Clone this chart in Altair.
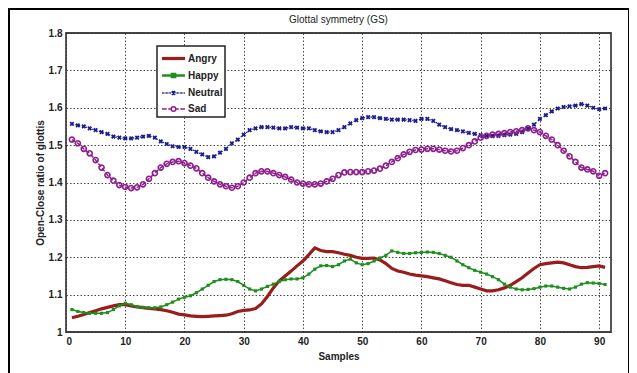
import altair as alt
import pandas as pd

emotions = ["Angry", "Happy", "Neutral", "Sad"]
colors = ["#9a1c1c", "#1e8f1e", "#1c1c8c", "#8e1e8e"]
samples = list(range(1, 92))
x_ticks = list(range(0, 91, 10))
y_ticks = [1.0, 1.1, 1.2, 1.3, 1.4, 1.5, 1.6, 1.7, 1.8]
title_text = "Glottal symmetry (GS)"

angry = [1.038, 1.042, 1.047, 1.052, 1.057, 1.062, 1.066, 1.070, 1.073, 1.073,
         1.070, 1.067, 1.065, 1.063, 1.062, 1.060, 1.057, 1.053, 1.048, 1.046,
         1.043, 1.042, 1.041, 1.042, 1.043, 1.044, 1.045, 1.049, 1.055, 1.058,
         1.059, 1.063, 1.075, 1.095, 1.118, 1.137, 1.150, 1.163, 1.177, 1.190,
         1.207, 1.225, 1.218, 1.215, 1.215, 1.212, 1.208, 1.205, 1.200, 1.197,
         1.197, 1.198, 1.193, 1.183, 1.170, 1.163, 1.160, 1.155, 1.152, 1.150,
         1.148, 1.145, 1.142, 1.137, 1.132, 1.127, 1.125, 1.125, 1.120, 1.115,
         1.110, 1.110, 1.113, 1.118, 1.125, 1.135, 1.145, 1.158, 1.170, 1.180,
         1.183, 1.185, 1.187, 1.185, 1.180, 1.175, 1.172, 1.173, 1.175, 1.177,
         1.173]

happy = [1.060, 1.055, 1.052, 1.050, 1.050, 1.050, 1.052, 1.060, 1.070, 1.077,
         1.073, 1.068, 1.066, 1.065, 1.065, 1.067, 1.073, 1.080, 1.088, 1.093,
         1.097, 1.105, 1.115, 1.125, 1.135, 1.140, 1.141, 1.140, 1.135, 1.125,
         1.115, 1.110, 1.115, 1.122, 1.128, 1.135, 1.140, 1.142, 1.142, 1.145,
         1.155, 1.168, 1.177, 1.178, 1.175, 1.180, 1.190, 1.195, 1.185, 1.180,
         1.183, 1.190, 1.198, 1.205, 1.217, 1.213, 1.210, 1.210, 1.212, 1.213,
         1.214, 1.213, 1.210, 1.205, 1.200, 1.190, 1.180, 1.172, 1.165, 1.160,
         1.155, 1.148, 1.140, 1.128, 1.120, 1.115, 1.113, 1.114, 1.116, 1.120,
         1.123, 1.123, 1.120, 1.117, 1.115, 1.120, 1.128, 1.132, 1.131, 1.130,
         1.127]

neutral = [1.557, 1.553, 1.550, 1.545, 1.540, 1.535, 1.530, 1.523, 1.520, 1.518,
           1.518, 1.520, 1.523, 1.525, 1.520, 1.510, 1.503, 1.497, 1.495, 1.495,
           1.490, 1.482, 1.475, 1.468, 1.470, 1.480, 1.490, 1.505, 1.515, 1.528,
           1.540, 1.545, 1.548, 1.548, 1.547, 1.545, 1.545, 1.548, 1.547, 1.545,
           1.545, 1.540, 1.537, 1.535, 1.535, 1.540, 1.548, 1.558, 1.567, 1.572,
           1.575, 1.575, 1.572, 1.570, 1.568, 1.568, 1.568, 1.567, 1.565, 1.570,
           1.570, 1.565, 1.555, 1.548, 1.543, 1.540, 1.537, 1.533, 1.530, 1.527,
           1.525, 1.524, 1.525, 1.527, 1.528, 1.530, 1.535, 1.545, 1.555, 1.570,
           1.580, 1.590, 1.598, 1.602, 1.604, 1.606, 1.610, 1.606, 1.600, 1.596,
           1.598]

sad = [1.515, 1.505, 1.490, 1.478, 1.460, 1.440, 1.420, 1.405, 1.393, 1.388,
       1.385, 1.387, 1.395, 1.410, 1.425, 1.440, 1.450, 1.455, 1.457, 1.452,
       1.445, 1.438, 1.425, 1.413, 1.403, 1.395, 1.390, 1.386, 1.390, 1.400,
       1.413, 1.425, 1.430, 1.430, 1.425, 1.420, 1.415, 1.408, 1.400, 1.397,
       1.395, 1.395, 1.397, 1.403, 1.410, 1.420, 1.427, 1.428, 1.428, 1.428,
       1.430, 1.432, 1.437, 1.445, 1.455, 1.465, 1.475, 1.482, 1.487, 1.488,
       1.490, 1.490, 1.488, 1.485, 1.483, 1.485, 1.492, 1.500, 1.510, 1.520,
       1.525, 1.528, 1.530, 1.532, 1.535, 1.537, 1.540, 1.545, 1.540, 1.535,
       1.525, 1.515, 1.500, 1.485, 1.470, 1.455, 1.440, 1.435, 1.430, 1.418,
       1.425]

series = {"Angry": angry, "Happy": happy, "Neutral": neutral, "Sad": sad}
rows = []
for name, vals in series.items():
    for s, v in zip(samples, vals):
        rows.append({"Sample": s, "Value": v, "Emotion": name})
df = pd.DataFrame(rows)

FONT = "Liberation Sans Narrow, Liberation Sans, Arial"

xenc = alt.X("Sample:Q", scale=alt.Scale(domain=[0, 92], nice=False),
             axis=alt.Axis(values=x_ticks, title="Samples"))
yenc = alt.Y("Value:Q", scale=alt.Scale(domain=[1, 1.8], nice=False, zero=False),
             axis=alt.Axis(values=y_ticks, format=".1~f", title="Open-Close ratio of glottis"))

base = alt.Chart(df)

line_style = {
    "Angry": dict(strokeWidth=3.2),
    "Happy": dict(strokeWidth=1.5),
    "Neutral": dict(strokeWidth=1.3, strokeDash=[1.5, 2]),
    "Sad": dict(strokeWidth=1.5, strokeDash=[4, 2]),
}
layers = []
for name, col in zip(emotions, colors):
    layers.append(
        base.transform_filter(alt.datum.Emotion == name)
        .mark_line(color=col, **line_style[name])
        .encode(x=xenc, y=yenc)
    )

XPATH = "M-1,-1L1,1M-1,1L1,-1"
layers.append(
    base.transform_filter(alt.datum.Emotion == "Happy")
    .mark_point(shape="square", filled=True, color=colors[1], size=10, opacity=1)
    .encode(x=xenc, y=yenc)
)
layers.append(
    base.transform_filter(alt.datum.Emotion == "Neutral")
    .mark_point(shape=XPATH, filled=False, color=colors[2], size=12, strokeWidth=1.8, opacity=1)
    .encode(x=xenc, y=yenc)
)
layers.append(
    base.transform_filter(alt.datum.Emotion == "Sad")
    .mark_point(shape="circle", filled=False, color=colors[3], size=26, strokeWidth=1.6, opacity=1)
    .encode(x=xenc, y=yenc)
)

# legend symbols (line + marker), coordinates scaled for symbolSize 289
def dotted(a, b, step=0.16, dot=0.08):
    out = ""
    p = a
    while p < b - 1e-9:
        q = min(p + dot, b)
        out += f"M{p:.3f},0L{q:.3f},0"
        p += step
    return out

W = 1.35
leg_shapes = [
    f"M{-W},0L{W},0",
    f"M{-W},0L{W},0M-0.18,-0.18L0.18,-0.18L0.18,0.18L-0.18,0.18Z",
    dotted(-W, -0.25) + dotted(0.27, W) + "M-0.2,-0.2L0.2,0.2M-0.2,0.2L0.2,-0.2",
    f"M{-W},0L-0.8,0M-0.62,0L-0.3,0M0.3,0L0.62,0M0.8,0L{W},0"
    "M-0.27,0A0.27,0.27 0 1,0 0.27,0A0.27,0.27 0 1,0 -0.27,0",
]

legend_layer = (
    base.transform_filter(alt.datum.Sample < 0)
    .mark_point(filled=False, opacity=1)
    .encode(
        x=xenc, y=yenc,
        color=alt.Color("Emotion:N", scale=alt.Scale(domain=emotions, range=colors),
                        legend=alt.Legend(title=None, orient="none", legendX=91, legendY=13)),
        shape=alt.Shape("Emotion:N", scale=alt.Scale(domain=emotions, range=leg_shapes)),
        strokeWidth=alt.StrokeWidth("Emotion:N", scale=alt.Scale(domain=emotions, range=[3.2, 1.5, 1.4, 1.5])),
    )
)
layers.append(legend_layer)

# chart title as text (kept clear of the outer frame)
title_layer = alt.Chart(alt.Data(values=[{"t": title_text}])).mark_text(
    font=FONT, fontSize=10, color="#222", align="center", baseline="middle"
).encode(text="t:N", x=alt.value(272.5), y=alt.value(-13))
layers.append(title_layer)

frame = alt.Chart(alt.Data(values=[{"a": 1}])).mark_rect(
    fillOpacity=0, stroke="black", strokeWidth=2, clip=False
).encode(x=alt.value(-57), x2=alt.value(563), y=alt.value(-24), y2=alt.value(400))
layers.append(frame)

chart = (
    alt.layer(*layers)
    .properties(
        width=545, height=299,
        padding={"left": 58, "top": 25, "right": 18, "bottom": 41},
        autosize=alt.AutoSizeParams(type="none"),
    )
    .configure_view(stroke="#444", strokeWidth=1.8)
    .configure_axis(
        grid=True, gridDash=[1.5, 2], gridColor="#333", gridOpacity=0.9, gridWidth=1,
        domain=False, ticks=False,
        labelFont=FONT, labelFontSize=10, labelFontWeight="bold", labelColor="#222",
        titleFont=FONT, titleFontSize=10, titleFontWeight="bold", titleColor="#222",
        labelPadding=4,
    )
    .configure_axisY(titlePadding=3)
    .configure_axisX(titlePadding=5)
    .configure_legend(
        strokeColor="#222", fillColor="white", padding=2, symbolSize=289,
        labelFont=FONT, labelFontSize=10, labelFontWeight="bold", labelColor="#222",
        rowPadding=0.5, symbolOffset=4, labelOffset=4, cornerRadius=0, strokeWidth=1.5,
    )
)

chart.save("out.html", embed_options={"renderer": "svg", "actions": False})
